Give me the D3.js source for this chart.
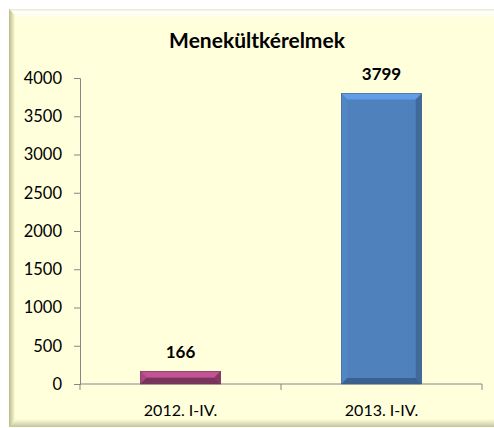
<!DOCTYPE html>
<html>
<head>
<meta charset="utf-8">
<script src="https://cdn.jsdelivr.net/npm/d3@7/dist/d3.min.js"></script>
<style>
  html, body { margin: 0; padding: 0; background: #ffffff; }
  svg { display: block; }
  text { font-family: Lato, "Open Sans", sans-serif; fill: #000; }
</style>
</head>
<body>
<svg id="chart" width="494" height="428"></svg>
<script>
// Asylum applications, January–April
const categories = ["2012. I-IV.", "2013. I-IV."];
const values = [166, 3799];
const barColors = ["#A0457A", "#4F81BD"];
const yTicks = [0, 500, 1000, 1500, 2000, 2500, 3000, 3500, 4000];
const title = "Menekültkérelmek";

const W = 494, H = 428;
const margin = { left: 80, right: 12, top: 78, bottom: 44 };
const svg = d3.select("#chart");

// Panel with a soft bevelled frame
const defs = svg.append("defs");
const gl = defs.append("linearGradient").attr("id", "edgeL").attr("x1", 0).attr("x2", 1);
gl.append("stop").attr("offset", 0).attr("stop-color", "#b9b98a");
gl.append("stop").attr("offset", 1).attr("stop-color", "#fdfdd6");
const gt = defs.append("linearGradient").attr("id", "edgeT").attr("x1", 0).attr("x2", 0).attr("y1", 0).attr("y2", 1);
gt.append("stop").attr("offset", 0).attr("stop-color", "#e8e8c8");
gt.append("stop").attr("offset", 0.3).attr("stop-color", "#ffffff");
gt.append("stop").attr("offset", 1).attr("stop-color", "#ffffdc");
const gb = defs.append("linearGradient").attr("id", "edgeB").attr("x1", 0).attr("x2", 0).attr("y1", 0).attr("y2", 1);
gb.append("stop").attr("offset", 0).attr("stop-color", "#ffffdc");
gb.append("stop").attr("offset", 1).attr("stop-color", "#c4c49c");

const px = 9, py = 9, pb = 427;
svg.append("rect").attr("x", px).attr("y", py).attr("width", W - px).attr("height", pb - py).attr("fill", "#ffffdc");
svg.append("rect").attr("x", px).attr("y", py).attr("width", W - px).attr("height", 9).attr("fill", "url(#edgeT)");
svg.append("rect").attr("x", px).attr("y", pb - 8).attr("width", W - px).attr("height", 8).attr("fill", "url(#edgeB)");
svg.append("polygon")
  .attr("points", [[px, py], [px + 6, py + 6], [px + 6, pb - 5], [px, pb]].join(" "))
  .attr("fill", "url(#edgeL)");

// Scales
const x = d3.scaleBand().domain(categories).range([margin.left, W - margin.right]).paddingInner(0.6).paddingOuter(0.3);
const xCat = d3.scaleBand().domain(categories).range([margin.left, W - margin.right]);
const y = d3.scaleLinear().domain([0, 4000]).range([H - margin.bottom, margin.top]);

// Title
svg.append("text").attr("x", 257).attr("y", 48).attr("text-anchor", "middle")
  .style("font-weight", "bold").style("font-size", "21px").text(title);

// Y axis
const yAxis = svg.append("g").attr("transform", `translate(${margin.left},0)`)
  .call(d3.axisLeft(y).tickValues(yTicks).tickSize(6).tickPadding(12).tickFormat(d3.format("d")));
yAxis.select(".domain").attr("stroke", "#868686");
yAxis.selectAll(".tick line").attr("stroke", "#868686");
yAxis.selectAll("text").style("font-size", "16.5px").style("font-family", "Lato, sans-serif").attr("fill", "#000");

// X axis: category boundaries as ticks
const xg = svg.append("g").attr("transform", `translate(0,${y(0)})`);
xg.append("line").attr("x1", margin.left).attr("x2", W - margin.right).attr("stroke", "#868686");
const bounds = categories.map(c => xCat(c)).concat([xCat(categories[categories.length - 1]) + xCat.bandwidth()]);
xg.selectAll(".bt").data(bounds).join("line")
  .attr("x1", d => d).attr("x2", d => d).attr("y1", 0).attr("y2", 6).attr("stroke", "#868686");
xg.selectAll(".cl").data(categories).join("text")
  .attr("x", d => xCat(d) + xCat.bandwidth() / 2).attr("y", 32)
  .attr("text-anchor", "middle").style("font-size", "16px").text(d => d);

// Bevelled bars
const bev = 6;
const shade = (c, k) => d3.color(c).brighter(k).formatHex();
const bars = svg.append("g");
categories.forEach((c, i) => {
  const x0 = x(c), x1 = x(c) + x.bandwidth();
  const y0 = y(values[i]), y1 = y(0);
  const col = barColors[i];
  const g = bars.append("g");
  g.append("rect").attr("x", x0).attr("y", y0).attr("width", x1 - x0).attr("height", y1 - y0).attr("fill", col);
  const b = Math.min(bev, (y1 - y0) / 2);
  const poly = (pts, fill) => g.append("polygon").attr("points", pts.map(p => p.join(",")).join(" ")).attr("fill", fill);
  poly([[x0, y0], [x1, y0], [x1 - b, y0 + b], [x0 + b, y0 + b]], shade(col, 0.55));
  poly([[x0, y0], [x0 + b, y0 + b], [x0 + b, y1 - b], [x0, y1]], shade(col, 0.12));
  poly([[x1, y0], [x1, y1], [x1 - b, y1 - b], [x1 - b, y0 + b]], shade(col, -0.55));
  poly([[x0, y1], [x0 + b, y1 - b], [x1 - b, y1 - b], [x1, y1]], shade(col, -0.8));
  g.append("rect").attr("x", x0).attr("y", y0).attr("width", x1 - x0).attr("height", y1 - y0)
    .attr("fill", "none").attr("stroke", shade(col, -0.8)).attr("stroke-width", 0.6);
  // value label
  svg.append("text").attr("x", (x0 + x1) / 2).attr("y", y0 - 13).attr("text-anchor", "middle")
    .style("font-weight", "bold").style("font-size", "17px").text(values[i]);
});
</script>
</body>
</html>
